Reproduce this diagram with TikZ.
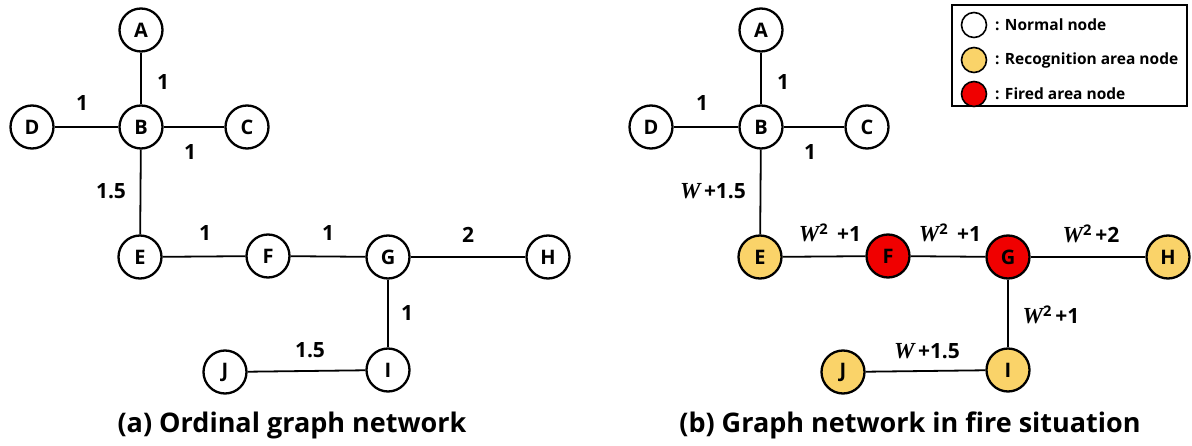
\documentclass[tikz,border=0pt]{standalone}
\usepackage{fontspec}
\setmainfont{Open Sans}
\newfontfamily\wfont{Liberation Serif}
\definecolor{recog}{RGB}{250,211,105}
\definecolor{fired}{RGB}{240,0,0}
\newcommand{\Wv}{{\wfont\fontsize{23}{23}\selectfont\bfseries\itshape W}}
\begin{document}
\begin{tikzpicture}[x=1pt,y=-1pt,
  gnode/.style={circle,draw=black,line width=2.3pt,minimum size=43pt,inner sep=0pt,fill=white,font=\fontsize{20}{20}\selectfont\bfseries},
  normal/.style={gnode},
  recn/.style={gnode,fill=recog},
  firen/.style={gnode,fill=fired},
  edge/.style={line width=1.8pt,draw=black},
  wlab/.style={font=\fontsize{21}{21}\selectfont\bfseries,inner sep=0pt},
  captext/.style={font=\fontsize{27}{27}\selectfont\bfseries,inner sep=0pt},
  leg/.style={circle,draw=black,line width=1.6pt,minimum size=25pt,inner sep=0pt},
  legtext/.style={font=\fontsize{15.5}{15.5}\selectfont\bfseries,inner sep=0pt,anchor=west}]
\useasboundingbox (0,0) rectangle (1192,446);
% ---------- left graph ----------
\node[normal] (lA) at (141,30) {A};
\node[normal] (lB) at (141,127) {B};
\node[normal] (lD) at (32,127) {D};
\node[normal] (lC) at (247,127) {C};
\node[normal] (lE) at (140,257) {E};
\node[normal] (lF) at (268,256) {F};
\node[normal] (lG) at (388,257) {G};
\node[normal] (lH) at (548,257) {H};
\node[normal] (lI) at (388,370) {I};
\node[normal] (lJ) at (225,372) {J};
\draw[edge] (lA) -- (lB);
\draw[edge] (lD) -- (lB);
\draw[edge] (lB) -- (lC);
\draw[edge] (lB) -- (lE);
\draw[edge] (lE) -- (lF);
\draw[edge] (lF) -- (lG);
\draw[edge] (lG) -- (lH);
\draw[edge] (lG) -- (lI);
\draw[edge] (lJ) -- (lI);
\node[wlab] (la1) at (163,82) {1};
\node[wlab] (la2) at (82,103) {1};
\node[wlab] (la3) at (190,152) {1};
\node[wlab] (la4) at (111,191) {1.5};
\node[wlab] (la5) at (205,233) {1};
\node[wlab] (la6) at (328,233) {1};
\node[wlab] (la7) at (468,235) {2};
\node[wlab] (la8) at (407,313) {1};
\node[wlab] (la9) at (310,350) {1.5};
% ---------- right graph ----------
\node[normal] (rA) at (761,30) {A};
\node[normal] (rB) at (761,127) {B};
\node[normal] (rD) at (651,127) {D};
\node[normal] (rC) at (867,127) {C};
\node[recn] (rE) at (760,257) {E};
\node[firen] (rF) at (888,256) {F};
\node[firen] (rG) at (1008,257) {G};
\node[recn] (rH) at (1168,257) {H};
\node[recn] (rI) at (1008,370) {I};
\node[recn] (rJ) at (843,372) {J};
\draw[edge] (rA) -- (rB);
\draw[edge] (rD) -- (rB);
\draw[edge] (rB) -- (rC);
\draw[edge] (rB) -- (rE);
\draw[edge] (rE) -- (rF);
\draw[edge] (rF) -- (rG);
\draw[edge] (rG) -- (rH);
\draw[edge] (rG) -- (rI);
\draw[edge] (rJ) -- (rI);
\node[wlab] (ra1) at (783,82) {1};
\node[wlab] (ra2) at (702,103) {1};
\node[wlab] (ra3) at (810,152) {1};
\node[wlab] (ra4) at (713,191) {\Wv\,+1.5};
\node[wlab] (ra5) at (830,233) {\Wv\textsuperscript{2}\, +1};
\node[wlab] (ra6) at (950,233) {\Wv\textsuperscript{2}\, +1};
\node[wlab] (ra7) at (1091,234) {\Wv\textsuperscript{2}\,+2};
\node[wlab] (ra8) at (1051,315) {\Wv\textsuperscript{2}\,+1};
\node[wlab] (ra9) at (927,351) {\Wv\,+1.5};
% ---------- legend ----------
\node[draw=black,line width=1.2pt,minimum width=235pt,minimum height=101pt,inner sep=0pt] (legbox) at (1069.5,55.5) {};
\node[leg,fill=white] (lg1) at (974,25) {};
\node[leg,fill=recog] (lg2) at (974,60) {};
\node[leg,fill=fired] (lg3) at (974,94) {};
\node[legtext] (lt1) at (995,25) {: Normal node};
\node[legtext] (lt2) at (995,60) {: Recognition area node};
\node[legtext] (lt3) at (995,94) {: Fired area node};
% ---------- captions ----------
\node[captext] (capa) at (292,425) {(a) Ordinal graph network};
\node[captext] (capb) at (910,425) {(b) Graph network in fire situation};
\end{tikzpicture}
\end{document}
